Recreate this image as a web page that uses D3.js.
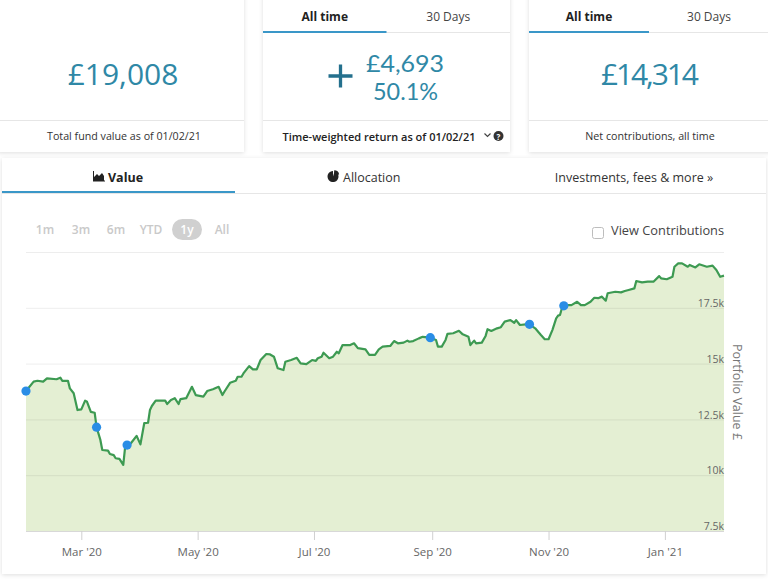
<!DOCTYPE html>
<html><head><meta charset="utf-8">
<script src="https://cdn.jsdelivr.net/npm/d3@7"></script>
<style>
html,body{margin:0;padding:0;background:#fff;overflow:hidden;}
svg{display:block;font-family:"Open Sans","Lato",sans-serif;}
</style></head><body>
<svg id="c" width="768" height="581"></svg>
<script>
// ---------- data ----------
const dates = ["2020-02-01","2020-02-05","2020-02-07","2020-02-10","2020-02-12","2020-02-17","2020-02-19","2020-02-20","2020-02-23","2020-02-24","2020-02-26","2020-02-28",
"2020-03-01","2020-03-03","2020-03-04","2020-03-06","2020-03-08","2020-03-09","2020-03-11","2020-03-12","2020-03-15","2020-03-16","2020-03-18","2020-03-19","2020-03-21","2020-03-23","2020-03-24","2020-03-25","2020-03-27","2020-03-30",
"2020-04-01","2020-04-03","2020-04-05","2020-04-06","2020-04-07","2020-04-09","2020-04-14","2020-04-15","2020-04-17","2020-04-19","2020-04-21","2020-04-22","2020-04-25","2020-04-28","2020-04-30",
"2020-05-04","2020-05-06","2020-05-09","2020-05-12","2020-05-14","2020-05-15","2020-05-18","2020-05-21","2020-05-22","2020-05-24","2020-05-25","2020-05-28","2020-05-30",
"2020-06-01","2020-06-03","2020-06-06","2020-06-08","2020-06-10","2020-06-12","2020-06-15","2020-06-16","2020-06-19","2020-06-22","2020-06-24","2020-06-27","2020-06-30",
"2020-07-02","2020-07-03","2020-07-05","2020-07-06","2020-07-09","2020-07-11","2020-07-13","2020-07-14","2020-07-16","2020-07-20","2020-07-22","2020-07-24","2020-07-28","2020-07-30",
"2020-08-02","2020-08-04","2020-08-06","2020-08-10","2020-08-12","2020-08-14","2020-08-17","2020-08-19","2020-08-20","2020-08-22","2020-08-25","2020-08-27","2020-08-31",
"2020-09-03","2020-09-04","2020-09-06","2020-09-08","2020-09-09","2020-09-12","2020-09-15","2020-09-17","2020-09-20","2020-09-21","2020-09-23","2020-09-24","2020-09-27","2020-09-29","2020-09-30",
"2020-10-02","2020-10-05","2020-10-07","2020-10-09","2020-10-12","2020-10-14","2020-10-15","2020-10-17","2020-10-20","2020-10-22","2020-10-25","2020-10-28","2020-10-30",
"2020-11-01","2020-11-03","2020-11-05","2020-11-06","2020-11-07","2020-11-08","2020-11-09","2020-11-11","2020-11-13","2020-11-16","2020-11-18","2020-11-20","2020-11-23","2020-11-25","2020-11-27","2020-11-29",
"2020-12-01","2020-12-02","2020-12-06","2020-12-09","2020-12-11","2020-12-13","2020-12-16","2020-12-17","2020-12-20","2020-12-23","2020-12-26","2020-12-29","2020-12-30",
"2021-01-02","2021-01-05","2021-01-06","2021-01-08","2021-01-10","2021-01-13","2021-01-14","2021-01-17","2021-01-19","2021-01-23","2021-01-26","2021-01-28","2021-01-30","2021-02-01"];
const values = [13770,14190,14230,14190,14340,14300,14370,14230,14230,13890,13670,12920,
12950,13340,13290,12840,12800,12150,11580,11130,11100,10950,10900,10760,10730,10460,11280,11350,11430,11760,
11380,12330,12350,12920,13100,13340,13340,13190,13370,13450,13190,13410,13450,13960,13590,
13520,13770,13850,13960,13590,13740,14140,14230,14410,14410,14560,14890,14740,
14740,15160,15430,15410,15310,14790,14710,15080,15160,15260,15010,14980,15160,
15120,15240,15310,15490,15240,15310,15530,15460,15830,15830,15910,15690,15640,15390,
15390,15640,15760,15790,16010,15910,15940,16030,15980,16010,16130,16200,16160,
16060,15760,15760,16060,16330,16360,16470,16310,16200,15830,16030,15910,15940,16240,16540,
16460,16580,16630,16880,16950,16830,16950,16730,16760,16760,16580,16280,16090,
16090,16500,17030,17150,17180,17480,17590,17620,17620,17770,17620,17620,17770,17950,17930,18000,
17820,18150,18220,18190,18250,18300,18370,18700,18640,18670,18670,18920,18820,
18780,18890,19340,19490,19490,19340,19420,19310,19450,19340,19390,19190,18890,18940];
const markerDates = ["2020-02-01","2020-03-09","2020-03-25","2020-08-31","2020-10-22","2020-11-09"];
const xDomain = ["2020-02-01","2021-02-01"];
const yDomain = [7500,20000];
const yTicks = [7500,10000,12500,15000,17500,20000];
const yTickLabels = ["7.5k","10k","12.5k","15k","17.5k",""];
const xTickDates = ["2020-03-01","2020-05-01","2020-07-01","2020-09-01","2020-11-01","2021-01-01"];
const xTickLabels = ["Mar '20","May '20","Jul '20","Sep '20","Nov '20","Jan '21"];
const rangeButtons = ["1m","3m","6m","YTD","1y","All"];
const activeRange = "1y";
const tabs = ["Value","Allocation","Investments, fees & more »"];
const cardTabs = ["All time","30 Days"];
const totalValue = "£19,008";
const returnValue = "£4,693";
const returnPct = "50.1%";
const netContrib = "£14,314";
const footers = ["Total fund value as of 01/02/21","Time-weighted return as of 01/02/21","Net contributions, all time"];
const yTitle = "Portfolio Value £";
const checkboxLabel = "View Contributions";

// ---------- drawing ----------
const svg = d3.select("#c");
const parse = d3.utcParse("%Y-%m-%d");
const teal = "#2f88a6", blue = "#3a97c8";

const defs = svg.append("defs");
const f = defs.append("filter").attr("id","sh").attr("x","-5%").attr("y","-5%").attr("width","110%").attr("height","115%");
f.append("feDropShadow").attr("dx",0).attr("dy",1).attr("stdDeviation",2).attr("flood-color","#000").attr("flood-opacity",0.13);

// cards
const cards = [{x:-2,w:246},{x:263,w:247},{x:529,w:245}];
cards.forEach(c=>{
  svg.append("rect").attr("x",c.x).attr("y",-6).attr("width",c.w).attr("height",158).attr("fill","#fff").attr("filter","url(#sh)");
  svg.append("line").attr("x1",c.x).attr("x2",c.x+c.w).attr("y1",120.5).attr("y2",120.5).attr("stroke","#e6e6e6");
});
// card tabs
[1,2].forEach(i=>{
  const c = cards[i], half = i===1 ? 123.5 : 120;
  svg.append("line").attr("x1",c.x).attr("x2",c.x+c.w).attr("y1",32.5).attr("y2",32.5).attr("stroke","#e6e6e6");
  svg.append("rect").attr("x",c.x).attr("y",31).attr("width",half).attr("height",2).attr("fill",blue);
  cardTabs.forEach((t,j)=>{
    svg.append("text").attr("x",c.x+half*j+half/2).attr("y",16).attr("dominant-baseline","central")
      .attr("text-anchor","middle").attr("font-size",12).attr("font-weight",j===0?700:400)
      .attr("fill",j===0?"#222":"#444").text(t);
  });
});
// big values
svg.append("text").attr("x",123).attr("y",73).attr("text-anchor","middle").attr("dominant-baseline","central")
  .attr("font-size",30).attr("fill",teal).text(totalValue);
// plus sign
svg.append("path").attr("d","M328.5,76H352.5M340.5,64.5V87.5").attr("stroke","#24708d").attr("stroke-width",3.3).attr("fill","none");
// two-line return value (tight-metric font so the two lines do not collide)
svg.append("text").attr("x",405).attr("y",71.6).attr("text-anchor","middle").attr("fill",teal)
  .attr("font-family","Lato,sans-serif").attr("font-size",23).attr("textLength",78).attr("lengthAdjust","spacingAndGlyphs").text(returnValue);
svg.append("text").attr("x",405.5).attr("y",99.6).attr("text-anchor","middle").attr("fill",teal)
  .attr("font-family","Lato,sans-serif").attr("font-size",23).attr("textLength",65).attr("lengthAdjust","spacingAndGlyphs").text(returnPct);
svg.append("text").attr("x",650).attr("y",73).attr("text-anchor","middle").attr("dominant-baseline","central")
  .attr("font-size",30).attr("textLength",98).attr("lengthAdjust","spacing").attr("fill",teal).text(netContrib);
// footers
svg.append("text").attr("x",124).attr("y",136).attr("text-anchor","middle").attr("dominant-baseline","central")
  .attr("font-size",10.7).attr("fill","#333").text(footers[0]);
svg.append("text").attr("x",379).attr("y",136).attr("text-anchor","middle").attr("dominant-baseline","central")
  .attr("font-size",11).attr("font-weight",600).attr("fill","#222").text(footers[1]);
svg.append("path").attr("d","M484.5,133.5 L487.5,136.5 L490.5,133.5").attr("fill","none").attr("stroke","#444").attr("stroke-width",1.2);
svg.append("circle").attr("cx",498.5).attr("cy",136).attr("r",5).attr("fill","#333");
svg.append("text").attr("x",498.5).attr("y",136.5).attr("text-anchor","middle").attr("dominant-baseline","central")
  .attr("font-size",8).attr("font-weight",700).attr("fill","#fff").text("?");
svg.append("text").attr("x",650).attr("y",136).attr("text-anchor","middle").attr("dominant-baseline","central")
  .attr("font-size",10.7).attr("fill","#333").text(footers[2]);

// main panel
svg.append("rect").attr("x",2).attr("y",158).attr("width",764).attr("height",416).attr("fill","#fff").attr("filter","url(#sh)");
svg.append("line").attr("x1",2).attr("x2",766).attr("y1",193.5).attr("y2",193.5).attr("stroke","#e6e6e6");
svg.append("rect").attr("x",2).attr("y",191).attr("width",233).attr("height",2).attr("fill",blue);
// value icon (small area chart)
svg.append("path").attr("d","M93,181 L93,171 L94,171 L94,177 L97,174 L99,176 L102,173 L104,176 L104,181 Z").attr("fill","#222");
svg.append("line").attr("x1",93).attr("x2",105).attr("y1",181).attr("y2",181).attr("stroke","#222").attr("stroke-width",1);
svg.append("text").attr("x",108).attr("y",177).attr("dominant-baseline","central").attr("font-size",12.5)
  .attr("font-weight",700).attr("fill","#222").text(tabs[0]);
// allocation icon (pie)
const arc = d3.arc();
svg.append("path").attr("transform","translate(333,176.5)")
  .attr("d",arc({innerRadius:0,outerRadius:5.5,startAngle:0.3,endAngle:2*Math.PI})).attr("fill","#222");
svg.append("path").attr("transform","translate(334.2,175.3)")
  .attr("d",arc({innerRadius:0,outerRadius:5,startAngle:0,endAngle:1.4})).attr("fill","#222");
svg.append("text").attr("x",343).attr("y",177).attr("dominant-baseline","central").attr("font-size",12.5)
  .attr("fill","#333").text(tabs[1]);
svg.append("text").attr("x",634).attr("y",177).attr("text-anchor","middle").attr("dominant-baseline","central").attr("font-size",12.5)
  .attr("fill","#333").text(tabs[2]);

// range buttons
const btnX = [45,81,116,151,187,222];
rangeButtons.forEach((b,i)=>{
  if(b===activeRange){
    svg.append("rect").attr("x",btnX[i]-15).attr("y",219).attr("width",30).attr("height",21).attr("rx",10.5).attr("fill","#d0d0d0");
  }
  svg.append("text").attr("x",btnX[i]).attr("y",229.5).attr("text-anchor","middle").attr("dominant-baseline","central")
    .attr("font-size",12).attr("font-weight",600).attr("fill",b===activeRange?"#fff":"#c9c9c9").text(b);
});
// checkbox
svg.append("rect").attr("x",592.5).attr("y",227.5).attr("width",11).attr("height",11).attr("rx",2)
  .attr("fill","#fff").attr("stroke","#bdbdbd");
svg.append("text").attr("x",611).attr("y",230).attr("dominant-baseline","central").attr("font-size",12.8)
  .attr("fill","#444").text(checkboxLabel);

// chart
const x = d3.scaleUtc().domain(xDomain.map(parse)).range([26,724]);
const y = d3.scaleLinear().domain(yDomain).range([531,252]);
const data = dates.map((d,i)=>({date:parse(d),value:values[i]}));

const area = d3.area().x(d=>x(d.date)).y0(y(yDomain[0])).y1(d=>y(d.value));
const line = d3.line().x(d=>x(d.date)).y(d=>y(d.value));
svg.append("path").datum(data).attr("d",area).attr("fill","#e4efd3");

// grid
const grid = svg.append("g").attr("transform","translate(724,0)")
  .call(d3.axisLeft(y).tickValues(yTicks).tickSize(698).tickFormat(""));
grid.select(".domain").remove();
grid.selectAll("line").attr("stroke","#000").attr("stroke-opacity",0.07);

svg.append("path").datum(data).attr("d",line).attr("fill","none").attr("stroke","#3d9a52")
  .attr("stroke-width",2.2).attr("stroke-linejoin","round");

// markers
const lookup = new Map(dates.map((d,i)=>[d,values[i]]));
svg.append("g").selectAll("circle").data(markerDates).join("circle")
  .attr("cx",d=>x(parse(d))).attr("cy",d=>y(lookup.get(d))).attr("r",4.6).attr("fill","#2a8de6");

// y labels
const ya = svg.append("g").attr("transform","translate(724,0)")
  .call(d3.axisLeft(y).tickValues(yTicks).tickSize(0).tickPadding(0).tickFormat((d,i)=>yTickLabels[i]));
ya.select(".domain").remove();
ya.selectAll("text").attr("dy","-0.12em").attr("font-size",10.5).attr("font-family","'Open Sans',sans-serif").attr("fill","#666");

// x axis
const xa = svg.append("g").attr("transform","translate(0,531)")
  .call(d3.axisBottom(x).tickValues(xTickDates.map(parse)).tickSize(9).tickPadding(8).tickFormat((d,i)=>xTickLabels[i]));
xa.select(".domain").attr("stroke","#d8d8d8").attr("d","M26,0.5H724");
xa.selectAll("line").attr("stroke","#d0d0d0");
xa.selectAll("text").attr("font-size",11.5).attr("font-family","'Open Sans',sans-serif").attr("fill","#666");

// y title
svg.append("text").attr("transform","translate(737,392) rotate(90)").attr("text-anchor","middle")
  .attr("dominant-baseline","central").attr("font-size",12.5).attr("fill","#777").text(yTitle);
</script>
</body></html>
